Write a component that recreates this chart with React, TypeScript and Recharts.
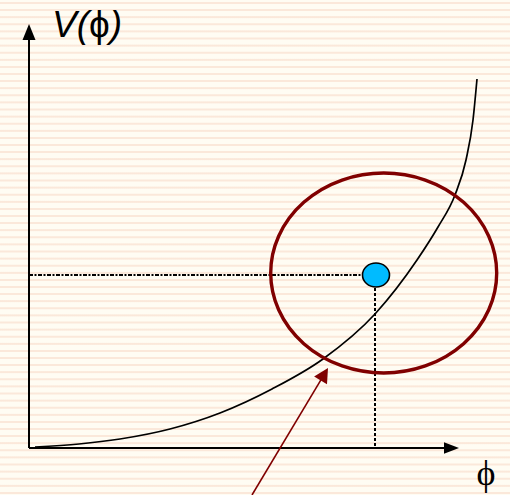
import React from "react";
import {
  ComposedChart,
  Line,
  Scatter,
  XAxis,
  YAxis,
  ReferenceLine,
  Customized,
} from "recharts";

// Potential curve V(phi), sampled points (phi, V)
const curvePhi = [6, 50, 91, 141, 191, 243, 294, 346, 388, 409, 426, 437, 444, 448];
const curveV = [1, 4, 9, 19, 35, 59, 89, 134, 188, 221, 253, 288, 328, 369];

// Selected point on the plane
const markerPoint = [{ phi: 347, v: 173 }];
// Region of uncertainty around it
const regionCenter = [{ phi: 354.7, v: 175 }];

// Axes extents and pointer arrow
const axisEnd = { phi: 430, v: 424 };
const pointerFrom = { phi: 223, v: -47 };
const pointerTo = { phi: 299, v: 80 };

const curveData = curvePhi.map((phi, i) => ({ phi, v: curveV[i] }));

const W = 510;
const H = 495;

type ArrowOpts = { color: string; width: number; len: number; half: number };

function arrowShape(opts: ArrowOpts) {
  return (p: any) => {
    const { x1, y1, x2, y2 } = p;
    const dx = x2 - x1;
    const dy = y2 - y1;
    const d = Math.sqrt(dx * dx + dy * dy) || 1;
    const ux = dx / d;
    const uy = dy / d;
    const bx = x2 - ux * opts.len;
    const by = y2 - uy * opts.len;
    const px = -uy * opts.half;
    const py = ux * opts.half;
    return (
      <g>
        <line x1={x1} y1={y1} x2={bx + ux} y2={by + uy} stroke={opts.color} strokeWidth={opts.width} />
        <polygon
          points={`${x2},${y2} ${bx + px},${by + py} ${bx - px},${by - py}`}
          fill={opts.color}
        />
      </g>
    );
  };
}

const RegionEllipse = (p: any) => (
  <ellipse cx={p.cx} cy={p.cy} rx={113} ry={100} fill="none" stroke="#800000" strokeWidth={3.4} />
);

const MarkerDot = (p: any) => (
  <ellipse cx={p.cx} cy={p.cy} rx={13.5} ry={12} fill="#00BBFF" stroke="#000" strokeWidth={1.6} />
);

const Labels = () => (
  <g>
    <text x={52} y={37} fontFamily="'Liberation Sans', Arial, sans-serif" fontSize={37} fill="#000">
      <tspan fontStyle="italic">V(</tspan>
      <tspan>ϕ</tspan>
      <tspan fontStyle="italic">)</tspan>
    </text>
    <text
      x={486}
      y={485}
      textAnchor="middle"
      fontFamily="'Liberation Serif', 'Times New Roman', serif"
      fontSize={36}
      fill="#000"
    >
      ϕ
    </text>
  </g>
);

export default function App() {
  return (
    <div
      style={{
        position: "absolute",
        left: 0,
        top: 0,
        width: W,
        height: H,
        background:
          "repeating-linear-gradient(to bottom, #FFFCF3 0px, #FFFCF3 1.6px, #FBE8DA 2.4px, #FBE8DA 3.6px, #FFFCF3 4.4px, #FFFCF3 7.1px)",
      }}
    >
      <ComposedChart width={W} height={H} margin={{ top: 0, right: 0, bottom: 47, left: 29 }}>
        <XAxis type="number" dataKey="phi" domain={[0, 481]} hide allowDataOverflow />
        <YAxis type="number" dataKey="v" domain={[0, 448]} hide allowDataOverflow />

        {/* horizontal guide from the V axis to the point */}
        <ReferenceLine
          segment={[
            { x: 0, y: markerPoint[0].v },
            { x: markerPoint[0].phi - 14, y: markerPoint[0].v },
          ]}
          stroke="#000"
          strokeWidth={2}
          strokeDasharray="4 1.5 2 1.5"
          ifOverflow="visible"
        />
        {/* vertical guide from the point down to the phi axis */}
        <ReferenceLine
          segment={[
            { x: markerPoint[0].phi - 1, y: markerPoint[0].v - 13 },
            { x: markerPoint[0].phi - 1, y: 0 },
          ]}
          stroke="#000"
          strokeWidth={2}
          strokeDasharray="3 2"
          ifOverflow="visible"
        />

        <Line
          data={curveData}
          dataKey="v"
          type="monotone"
          stroke="#000"
          strokeWidth={1.7}
          dot={false}
          isAnimationActive={false}
        />

        <Scatter data={regionCenter} dataKey="v" shape={RegionEllipse} isAnimationActive={false} />
        <Scatter data={markerPoint} dataKey="v" shape={MarkerDot} isAnimationActive={false} />

        {/* axes with arrowheads */}
        <ReferenceLine
          segment={[
            { x: 0, y: 0 },
            { x: 0, y: axisEnd.v },
          ]}
          ifOverflow="visible"
          shape={arrowShape({ color: "#000", width: 2, len: 16, half: 6.5 })}
        />
        <ReferenceLine
          segment={[
            { x: 0, y: 0 },
            { x: axisEnd.phi, y: 0 },
          ]}
          ifOverflow="visible"
          shape={arrowShape({ color: "#000", width: 2, len: 15, half: 5.8 })}
        />

        {/* pointer arrow */}
        <ReferenceLine
          segment={[
            { x: pointerFrom.phi, y: pointerFrom.v },
            { x: pointerTo.phi, y: pointerTo.v },
          ]}
          ifOverflow="visible"
          shape={arrowShape({ color: "#800000", width: 1.6, len: 14.5, half: 7.5 })}
        />

        <Customized component={Labels} />
      </ComposedChart>
    </div>
  );
}
